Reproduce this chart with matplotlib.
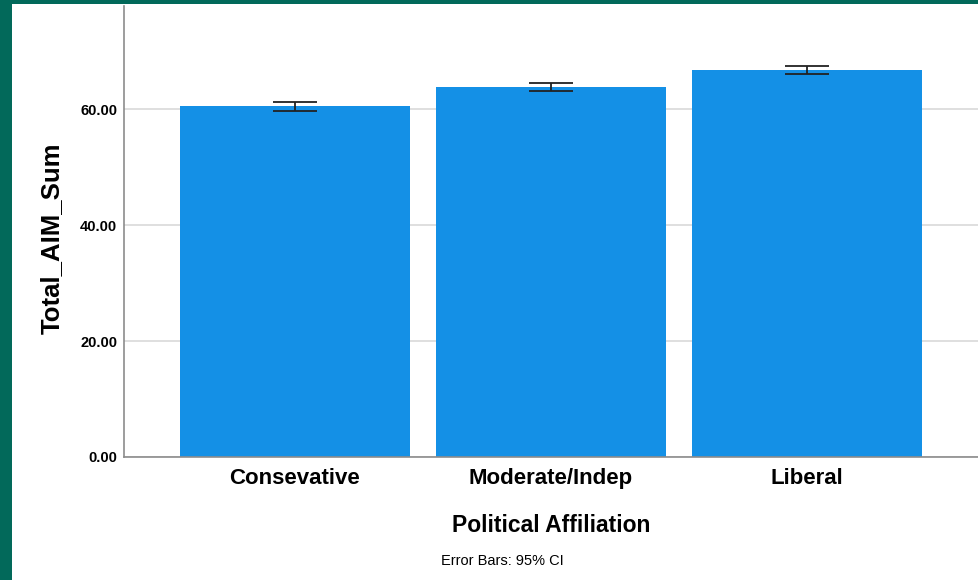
import matplotlib
matplotlib.use("Agg")
import matplotlib.pyplot as plt
from matplotlib.patches import Rectangle

plt.rcParams['font.family'] = ['Liberation Sans', 'DejaVu Sans']

# Mean Total_AIM_Sum by political affiliation, with 95% CI half-widths
groups = ["Consevative", "Moderate/Indep", "Liberal"]
means = [60.45, 63.85, 66.65]
ci_half = [0.8, 0.7, 0.7]
yticks = [0, 20, 40, 60]

fig = plt.figure(figsize=(9.79, 5.8), dpi=100)
fig.patch.set_facecolor("white")

# dark frame along the left and top edges
teal = "#02695A"
fig.patches.append(Rectangle((0, 0), 12 / 979, 1, transform=fig.transFigure,
                             facecolor=teal, edgecolor="none", zorder=10))
fig.patches.append(Rectangle((0, 1 - 4 / 580), 1, 4 / 580, transform=fig.transFigure,
                             facecolor=teal, edgecolor="none", zorder=10))

ax = fig.add_axes([124 / 979, 1 - 457 / 580, 1 - 124 / 979, (457 - 6) / 580])
x = range(len(groups))
ax.bar(x, means, width=0.9, color="#1490E6", zorder=2)
ax.errorbar(x, means, yerr=ci_half, fmt="none", ecolor="#222222",
            elinewidth=1.3, capsize=16, capthick=1.3, zorder=3)

ax.set_xlim(-0.668, 2.672)
ax.set_ylim(0, 77.76)
ax.set_yticks(yticks)
ax.set_yticklabels([f"{v:.2f}" for v in yticks], fontsize=10.5, fontweight="bold")
ax.set_xticks(list(x))
ax.set_xticklabels(groups, fontsize=16, fontweight="bold")
ax.tick_params(axis="both", length=0)
ax.tick_params(axis="y", pad=5)
ax.tick_params(axis="x", pad=8)
ax.yaxis.grid(True, color="#D9D9D9", linewidth=1.2, zorder=0)
ax.set_axisbelow(True)

for side in ("top", "right"):
    ax.spines[side].set_visible(False)
for side in ("left", "bottom"):
    ax.spines[side].set_color("#8C8C8C")
    ax.spines[side].set_linewidth(1.2)

ax.set_ylabel("Total_AIM_Sum", fontsize=18.5, fontweight="bold")
ax.yaxis.set_label_coords(-0.071, 0.486)
ax.set_xlabel("Political Affiliation", fontsize=16.5, fontweight="bold", labelpad=18)

fig.text(502 / 979, 1 - 561 / 580, "Error Bars: 95% CI", fontsize=10.5,
         ha="center", va="center")

fig.savefig("out.png", dpi=100)
